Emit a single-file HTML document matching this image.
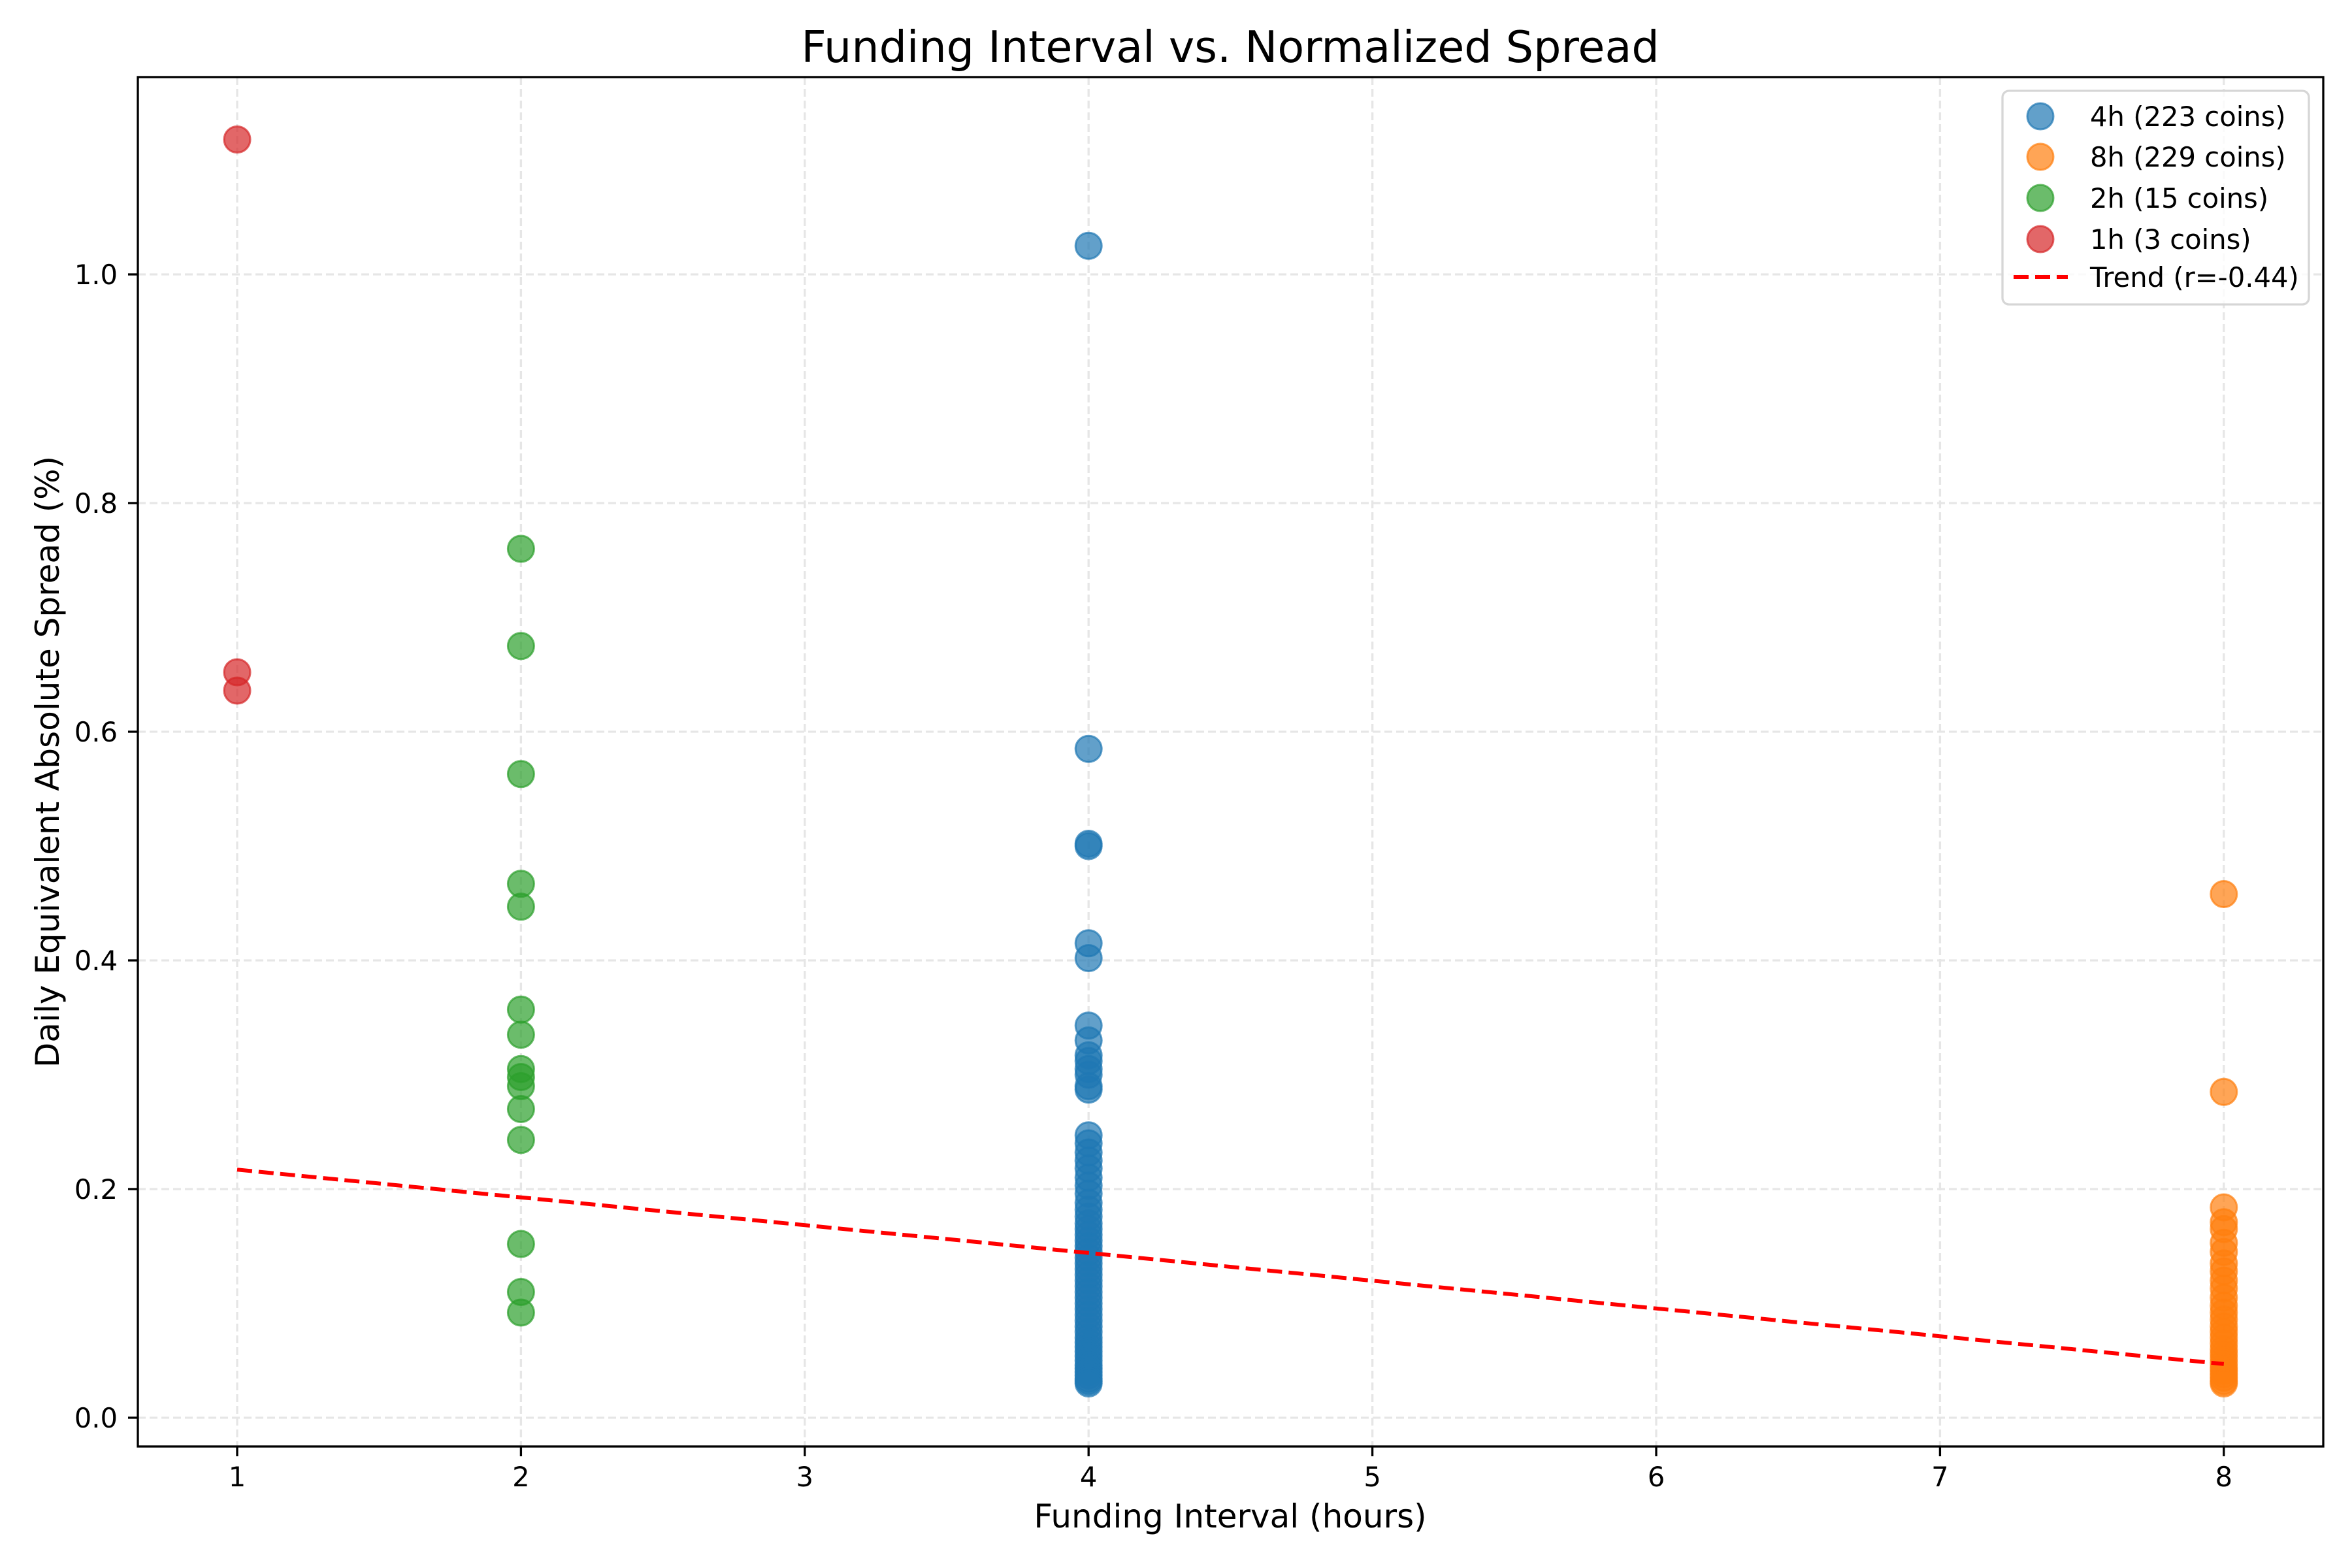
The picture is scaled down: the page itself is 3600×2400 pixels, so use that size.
<!DOCTYPE html>
<html><head><meta charset="utf-8"><style>
body{margin:0;background:#fff}
svg{display:block;font-family:"DejaVu Sans","Liberation Sans",sans-serif}
</style></head><body>
<svg id="chart" width="3600" height="2400" viewBox="0 0 3600 2400" xmlns="http://www.w3.org/2000/svg">
<rect x="0" y="0" width="3600" height="2400" fill="#fff"/>
<g id="grid"></g>
<g id="points"></g>
<g id="trend"></g>
<rect x="211" y="118" width="3345" height="2096" fill="none" stroke="#000" stroke-width="3.3"/>
<g id="ticks"></g>
<text x="1883" y="95" font-size="66.7" text-anchor="middle">Funding Interval vs. Normalized Spread</text>
<text x="1883" y="2338" font-size="50" text-anchor="middle">Funding Interval (hours)</text>
<text x="0" y="0" font-size="50" text-anchor="middle" transform="translate(90,1166) rotate(-90)">Daily Equivalent Absolute Spread (%)</text>
<g id="legend">
<rect x="3065" y="139" width="469" height="327" rx="10" fill="#fff" fill-opacity="0.8" stroke="#d6d6d6" stroke-width="3.3"/>
</g>
</svg>
<script>
const xTicks=[1,2,3,4,5,6,7,8];
const yTicks=[0,0.2,0.4,0.6,0.8,1.0];
const yTickLabels=["0.0","0.2","0.4","0.6","0.8","1.0"];
const seriesNames=["4h (223 coins)","8h (229 coins)","2h (15 coins)","1h (3 coins)"];
const seriesX=[4,8,2,1];
const colors=["#1f77b4","#ff7f0e","#2ca02c","#d62728"];
const vals4h=[1.025,0.585,0.502,0.500,0.415,0.402,0.343,0.330,0.317,0.312,0.305,0.300,0.290,0.287,0.247,0.240,0.232,0.225,0.218,0.210,0.203,0.196,0.188,0.182,0.176,0.170,0.165,0.160,0.155,0.150,0.145,0.140,0.135,0.130,0.125,0.120,0.115,0.110,0.105,0.100,0.095,0.090,0.085,0.080,0.075,0.070,0.066,0.062,0.058,0.054,0.050,0.046,0.043,0.040,0.037,0.034,0.032,0.030];
const vals8h=[0.458,0.285,0.184,0.171,0.165,0.153,0.145,0.135,0.128,0.120,0.113,0.105,0.098,0.092,0.086,0.080,0.075,0.070,0.065,0.060,0.056,0.052,0.048,0.044,0.041,0.038,0.035,0.032,0.030];
const vals2h=[0.760,0.675,0.563,0.467,0.447,0.357,0.335,0.305,0.298,0.290,0.270,0.243,0.152,0.110,0.092];
const vals1h=[1.118,0.652,0.636];
const trendX=[1,8];
const trendY=[0.217,0.047];
const NS="http://www.w3.org/2000/svg";
function xs(v){return 363+(v-1)*434.4;}
function ys(v){return 2170-v*1750;}
function mk(tag,attrs,parent){const e=document.createElementNS(NS,tag);for(const k in attrs)e.setAttribute(k,attrs[k]);parent.appendChild(e);return e;}
const grid=document.getElementById('grid'),ticks=document.getElementById('ticks');
xTicks.forEach(t=>{
  const g=mk('line',{x1:xs(t),x2:xs(t),y1:118,y2:2214,stroke:'#e6e6e6','stroke-width':3.3,'stroke-dasharray':'12,6'},grid);
  
  
  const tk=mk('line',{x1:xs(t),x2:xs(t),y1:2214,y2:2229,stroke:'#000','stroke-width':3.3},ticks);
  
  
  const tl=mk('text',{x:xs(t),y:2275,'font-size':41.7,'text-anchor':'middle'},ticks);
  tl.textContent=String(t);
  
  
});
yTicks.forEach((t,i)=>{
  const g=mk('line',{x1:211,x2:3556,y1:ys(t),y2:ys(t),stroke:'#e6e6e6','stroke-width':3.3,'stroke-dasharray':'12,6'},grid);
  
  
  const tk=mk('line',{x1:196,x2:211,y1:ys(t),y2:ys(t),stroke:'#000','stroke-width':3.3},ticks);
  
  
  const tl=mk('text',{x:180,y:ys(t)+15,'font-size':41.7,'text-anchor':'end'},ticks);
  tl.textContent=yTickLabels[i];
  
  
});
const pts=document.getElementById('points');
[vals4h,vals8h,vals2h,vals1h].forEach((arr,si)=>{
  arr.forEach(v=>{
    const c=mk('circle',{cx:xs(seriesX[si]),cy:ys(v),r:20,fill:colors[si],'fill-opacity':0.7,stroke:colors[si],'stroke-opacity':0.7,'stroke-width':3},pts);
    
    
  });
});
const tl=mk('line',{x1:xs(trendX[0]),y1:ys(trendY[0]),x2:xs(trendX[1]),y2:ys(trendY[1]),stroke:'#ff0000','stroke-width':6,'stroke-dasharray':'23,10'},document.getElementById('trend'));


const leg=document.getElementById('legend');
const rowY=[178,240,303,366];
seriesNames.forEach((n,i)=>{
  const c=mk('circle',{cx:3123,cy:rowY[i],r:20,fill:colors[i],'fill-opacity':0.7,stroke:colors[i],'stroke-opacity':0.7,'stroke-width':3},leg);
  
  
  const t=mk('text',{x:3199,y:rowY[i]+15,'font-size':41.7},leg);
  t.textContent=n;
  
  
});
const ll=mk('line',{x1:3082,x2:3165,y1:424,y2:424,stroke:'#ff0000','stroke-width':6,'stroke-dasharray':'23,10'},leg);


const lt=mk('text',{x:3199,y:439,'font-size':41.7},leg);
lt.textContent="Trend (r=-0.44)";


</script>
</body></html>
